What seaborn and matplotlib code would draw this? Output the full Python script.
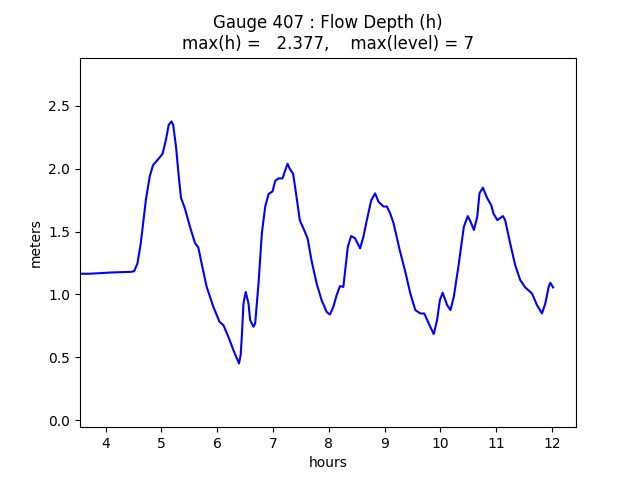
import matplotlib
matplotlib.use("Agg")
import matplotlib.pyplot as plt
import seaborn as sns
import pandas as pd

hours = [3.54, 3.70, 3.90, 4.10, 4.30, 4.45, 4.51, 4.57, 4.63, 4.72, 4.79, 4.85, 4.93,
         5.02, 5.08, 5.13, 5.18, 5.21, 5.26, 5.31, 5.35, 5.42, 5.51, 5.60, 5.66, 5.72, 5.81, 5.93,
         6.04, 6.11, 6.20, 6.29, 6.39, 6.42, 6.44, 6.47, 6.51, 6.56, 6.59, 6.65, 6.68, 6.74,
         6.80, 6.86, 6.92, 6.99, 7.04, 7.10, 7.17, 7.22, 7.26, 7.30, 7.36, 7.42, 7.48, 7.56,
         7.62, 7.69, 7.78, 7.87, 7.96, 8.02, 8.08, 8.14, 8.20, 8.26, 8.30, 8.34, 8.40, 8.47, 8.56,
         8.62, 8.68, 8.76, 8.83, 8.89, 8.98, 9.04, 9.10, 9.16, 9.27, 9.37, 9.46, 9.55, 9.64,
         9.71, 9.79, 9.88, 9.94, 9.99, 10.04, 10.12, 10.18, 10.24, 10.33, 10.42, 10.49, 10.54,
         10.60, 10.66, 10.70, 10.76, 10.84, 10.91, 10.95, 11.02, 11.12, 11.16, 11.25, 11.34,
         11.43, 11.52, 11.64, 11.73, 11.82, 11.88, 11.94, 11.97, 12.02]
depth = [1.165, 1.165, 1.170, 1.175, 1.178, 1.180, 1.185, 1.247, 1.41, 1.75, 1.94, 2.03, 2.07,
         2.12, 2.23, 2.35, 2.377, 2.35, 2.18, 1.94, 1.77, 1.685, 1.54, 1.41, 1.375, 1.247, 1.061, 0.902,
         0.783, 0.756, 0.663, 0.557, 0.451, 0.52, 0.663, 0.929, 1.02, 0.929, 0.796, 0.743, 0.77, 1.09,
         1.49, 1.70, 1.80, 1.82, 1.905, 1.924, 1.924, 1.99, 2.04, 2.00, 1.96, 1.78, 1.59, 1.51,
         1.445, 1.27, 1.09, 0.955, 0.862, 0.84, 0.90, 0.995, 1.067, 1.06, 1.22, 1.38, 1.465, 1.447, 1.367,
         1.46, 1.59, 1.75, 1.805, 1.738, 1.70, 1.70, 1.645, 1.566, 1.354, 1.181, 1.009, 0.876, 0.849,
         0.849, 0.77, 0.685, 0.796, 0.955, 1.014, 0.916, 0.876, 0.982, 1.247, 1.539, 1.624, 1.58,
         1.513, 1.619, 1.805, 1.850, 1.765, 1.712, 1.645, 1.592, 1.624, 1.592, 1.407, 1.234,
         1.115, 1.056, 1.009, 0.916, 0.849, 0.929, 1.061, 1.093, 1.056]

df = pd.DataFrame({"hours": hours, "h": depth})

fig, ax = plt.subplots(figsize=(6.4, 4.8), dpi=100)
sns.lineplot(data=df, x="hours", y="h", ax=ax, color="blue", linewidth=1.5)
ax.set_xlim(3.54, 12.43)
ax.set_ylim(-0.056, 2.885)
ax.set_xlabel("hours")
ax.set_ylabel("meters")
ax.set_title("Gauge 407 : Flow Depth (h)\nmax(h) =   2.377,    max(level) = 7")
fig.savefig("out.png", dpi=100)
